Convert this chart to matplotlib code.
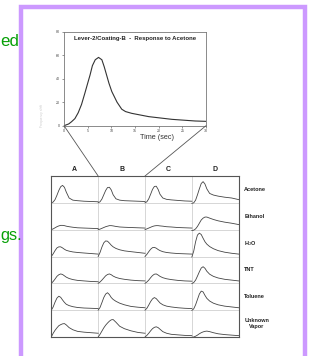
import matplotlib
matplotlib.use("Agg")
import matplotlib.pyplot as plt
from matplotlib.patches import Rectangle, ConnectionPatch

plt.rcParams['font.family'] = ['Liberation Sans', 'DejaVu Sans']

# ---------------- data ----------------
time_sec = [0, 1.0, 1.6, 2.3, 3.0, 3.7, 4.4, 5.0, 5.5, 6.0, 6.6, 7.3, 8.0, 8.5, 9.0, 9.5,
            10.1, 11.2, 12.2, 13.0, 14.3, 17.9, 22.8, 27.7, 30]
response = [0, 1.5, 3.4, 6, 11, 18, 27.5, 36, 43, 51, 56, 58, 56, 50, 43, 36,
            29, 20, 14, 12, 10.5, 7.7, 5.4, 4.0, 3.7]
x_ticks = [0, 5, 10, 15, 20, 25, 30]
y_ticks = [0, 20, 40, 60, 80]

levers = ['A', 'B', 'C', 'D']
vapors = ['Acetone', 'Ethanol', 'H$_2$O', 'TNT', 'Toluene', 'Unknown\nVapor']

# fraction of the cell width for each sample of the small response curves
cell_x = [0, .04, .08, .12, .16, .20, .24, .28, .32, .38, .46, .56, .70, .85, 1.0]

acetone = [
    [0, .03, .12, .28, .46, .60, .65, .58, .40, .18, .10, .08, .06, .05, .04],
    [0, .04, .14, .30, .46, .57, .58, .48, .30, .15, .10, .08, .07, .06, .05],
    [0, .04, .15, .32, .50, .61, .62, .50, .32, .18, .13, .11, .09, .07, .06],
    [-.02, .0, .10, .30, .52, .72, .79, .70, .52, .35, .29, .25, .21, .18, .12],
]
ethanol = [
    [0, .03, .07, .11, .14, .16, .16, .15, .13, .11, .09, .07, .06, .05, .04],
    [0, .02, .05, .08, .11, .13, .15, .15, .14, .12, .10, .09, .08, .07, .06],
    [0, .03, .06, .09, .12, .14, .15, .15, .14, .13, .11, .10, .08, .07, .06],
    [-.03, -.02, .03, .12, .24, .36, .43, .47, .47, .43, .38, .33, .28, .24, .19],
]
water = [
    [0, .10, .22, .32, .36, .36, .32, .27, .23, .20, .17, .15, .13, .11, .09],
    [0, .15, .35, .51, .58, .57, .50, .42, .36, .30, .25, .21, .18, .15, .12],
    [0, .08, .18, .27, .33, .34, .31, .26, .22, .18, .15, .13, .11, .10, .09],
    [-.02, .20, .55, .80, .87, .82, .68, .55, .46, .37, .29, .22, .16, .12, .09],
]
tnt = [
    [0, .07, .16, .26, .32, .35, .33, .28, .23, .18, .14, .11, .09, .07, .06],
    [0, .05, .12, .20, .28, .33, .35, .32, .27, .22, .18, .15, .12, .10, .09],
    [0, .05, .12, .21, .29, .34, .35, .31, .26, .21, .17, .14, .11, .09, .08],
    [-.01, .03, .12, .27, .43, .57, .62, .56, .45, .34, .26, .20, .15, .12, .09],
]
toluene = [
    [0, .12, .30, .45, .52, .48, .38, .29, .22, .17, .13, .10, .08, .07, .06],
    [0, .10, .28, .47, .60, .65, .58, .47, .40, .33, .26, .20, .14, .11, .09],
    [0, .07, .19, .32, .42, .47, .43, .35, .27, .20, .15, .12, .09, .07, .06],
    [-.01, .05, .20, .40, .60, .71, .68, .55, .44, .34, .26, .20, .15, .12, .09],
]
unknown = [
    [0, .14, .25, .34, .42, .46, .49, .50, .45, .35, .27, .21, .18, .16, .14],
    [0, .10, .22, .34, .44, .52, .59, .64, .65, .55, .40, .31, .23, .17, .14],
    [0, .06, .14, .23, .31, .36, .38, .35, .29, .20, .14, .10, .08, .06, .05],
    [-.01, .0, .03, .07, .12, .16, .19, .21, .22, .20, .16, .12, .09, .07, .05],
]
responses = [acetone, ethanol, water, tnt, toluene, unknown]

# ---------------- figure ----------------
W, H = 314, 356
fig = plt.figure(figsize=(W / 100, H / 100), dpi=100)
fig.patch.set_facecolor('white')


def fx(px):
    return px / W


def fy(py):
    return 1 - py / H


# slide frame
fig.add_artist(Rectangle((fx(20.5), fy(380)), fx(305) - fx(20.5), fy(6.7) - fy(380),
                         transform=fig.transFigure, fill=False,
                         edgecolor='#cc99ff', lw=3.2))

# slide text on the left
fig.text(fx(0.5), fy(46), 'ed', color='#07a007', fontsize=12.2,
         ha='left', va='baseline')
fig.text(fx(0.5), fy(240), 'gs.', color='#07a007', fontsize=11.8,
         ha='left', va='baseline')

# ---------------- main response chart ----------------
ax = fig.add_axes([fx(64), fy(125.7), fx(206) - fx(64), fy(31.5) - fy(125.7)])
ax.plot(time_sec, response, color='#333333', lw=0.8)
ax.set_xlim(0, 30)
ax.set_ylim(0, 80)
ax.set_xticks(x_ticks)
ax.set_yticks(y_ticks)
ax.tick_params(labelsize=2.6, length=1.5, width=0.4, pad=1.2,
               colors='#444444')
for s in ax.spines.values():
    s.set_color('#777777')
    s.set_linewidth(0.6)
ax.text(0.5, 0.93, 'Lever-2/Coating-B  -  Response to Acetone',
        transform=ax.transAxes, ha='center', va='center',
        fontsize=4.3, fontweight='bold', color='#222222')
fig.text(fx(157), fy(138), 'Time (sec)', fontsize=5.2, color='#333333',
         ha='center', va='center')
fig.text(fx(42), fy(127), 'Frequency shift', fontsize=2.4, color='#cccccc',
         rotation=90, ha='center', va='bottom')

# ---------------- grid of small responses ----------------
g = fig.add_axes([fx(51.3), fy(337), fx(238.7) - fx(51.3), fy(176) - fy(337)])
n_rows = len(vapors)
for i, row in enumerate(responses):
    for j, vals in enumerate(row):
        g.plot([j + x for x in cell_x], [n_rows - 1 - i + v for v in vals],
               color='#444444', lw=0.6)
g.set_xlim(0, len(levers))
g.set_ylim(0, n_rows)
g.set_xticks(range(1, len(levers)))
g.set_yticks(range(1, n_rows))
g.tick_params(length=0, labelbottom=False, labelleft=False)
g.grid(True, color='#d0d0d0', lw=0.6)
g.set_axisbelow(True)
for s in g.spines.values():
    s.set_color('#555555')
    s.set_linewidth(0.8)

for j, name in enumerate(levers):
    g.text(j + 0.5, n_rows + 0.1, name, ha='center', va='bottom',
           fontsize=5, fontweight='bold', color='#222222')
for i, name in enumerate(vapors):
    g.text(len(levers) + 0.12, n_rows - 1 - i + 0.5, name, ha='left',
           va='center', fontsize=4, fontweight='bold', color='#222222',
           multialignment='center', linespacing=1.05)

# connector lines from the zoomed chart to the grid
for (xa, xg) in [(0, 1), (30, 2)]:
    con = ConnectionPatch(xyA=(xa, 0), coordsA=ax.transData,
                          xyB=(xg, n_rows), coordsB=g.transData,
                          color='#555555', lw=0.6)
    fig.add_artist(con)

fig.savefig('out.png', dpi=100, facecolor='white')
